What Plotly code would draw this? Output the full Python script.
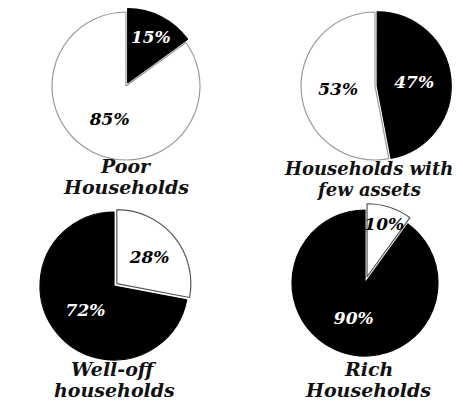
import plotly.graph_objects as go

# ---- data ----
group_labels = ["Poor<br>Households", "Households with<br>few assets",
                "Well-off<br>households", "Rich<br>Households"]
# slice values, listed clockwise from 12 o'clock
poor_values = [15, 85]
few_assets_values = [47, 53]
well_off_values = [28, 72]
rich_values = [10, 90]
all_values = [poor_values, few_assets_values, well_off_values, rich_values]

# ---- styling ----
W, H = 463, 401
FONT = "DejaVu Serif"
slice_colors = [["#000000", "#ffffff"], ["#000000", "#ffffff"],
                ["#ffffff", "#000000"], ["#ffffff", "#000000"]]
line_colors = [["#000000", "#999999"], ["#000000", "#999999"],
               ["#555555", "#000000"], ["#555555", "#000000"]]
pulls = [[0.05, 0], [0.03, 0], [0.05, 0], [0.09, 0]]
centers = [(118, 78), (367, 78), (106, 278), (357, 275)]
radii = [74, 74, 74, 73]
label_x = [118, 360, 106, 360]
label_size = [19, 18, 19, 19]
label_y = [(158, 179), (160, 181), (361, 382), (361, 382)]

fig = go.Figure()
for i, vals in enumerate(all_values):
    cx, cy = centers[i]
    r = radii[i]
    p = max(pulls[i])
    h = r * (1 + p)
    dom_x = [max(0, (cx - h) / W), min(1, (cx + h) / W)]
    dom_y = [max(0, 1 - (cy + h) / H), min(1, 1 - (cy - h) / H)]
    txt_colors = ["#ffffff" if c == "#000000" else "#000000" for c in slice_colors[i]]
    fig.add_trace(go.Pie(
        values=vals,
        sort=False,
        direction="clockwise",
        rotation=0,
        pull=pulls[i],
        marker=dict(colors=slice_colors[i], line=dict(color=line_colors[i], width=1.2)),
        texttemplate="%{value}%",
        textposition="inside",
        insidetextorientation="horizontal",
        insidetextfont=dict(family=FONT, size=17, color=txt_colors,
                            weight="bold", style="italic"),
        hoverinfo="skip",
        showlegend=False,
        domain=dict(x=dom_x, y=dom_y),
    ))
    for line, yy in zip(group_labels[i].split("<br>"), label_y[i]):
        fig.add_annotation(
            text=line, x=label_x[i] / W, y=1 - yy / H, xref="paper", yref="paper",
            xanchor="center", yanchor="middle", showarrow=False,
            font=dict(family=FONT, size=label_size[i], color="#111111",
                      weight="bold", style="italic"),
        )

fig.update_layout(
    width=W, height=H,
    margin=dict(l=0, r=0, t=0, b=0),
    paper_bgcolor="#ffffff",
    plot_bgcolor="#ffffff",
    uniformtext=dict(minsize=17, mode="show"),
)
fig.write_html("out.html")
